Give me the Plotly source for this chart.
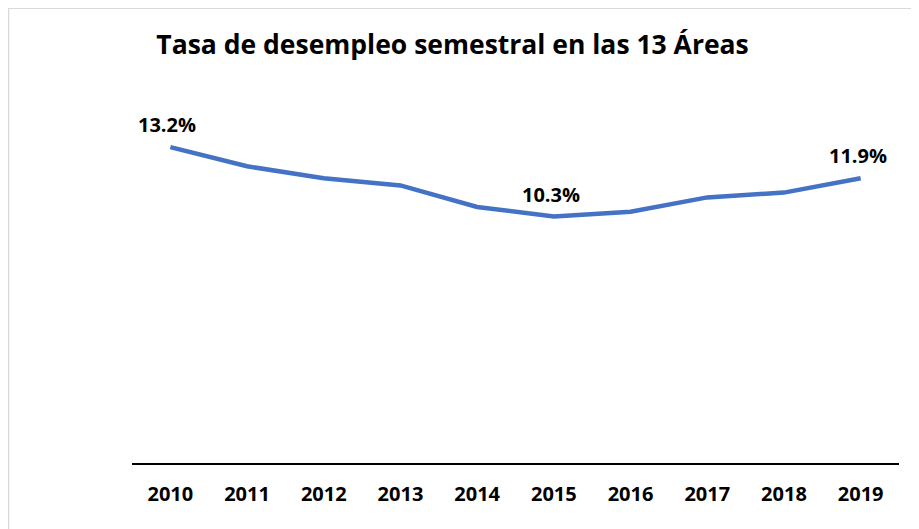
import plotly.graph_objects as go

# Tasa de desempleo semestral, 13 áreas
years = ["2010", "2011", "2012", "2013", "2014", "2015", "2016", "2017", "2018", "2019"]
rate = [13.2, 12.4, 11.9, 11.6, 10.7, 10.3, 10.5, 11.1, 11.3, 11.9]
labeled_years = ["2010", "2015", "2019"]

fig = go.Figure()
fig.add_trace(go.Scatter(
    x=years,
    y=rate,
    mode="lines",
    line=dict(color="#4472C4", width=4.5),
    hoverinfo="skip",
))

# value labels for a few years, placed above the line
# (category axis: annotations take the category index, not the year string)
for i, (y, v) in enumerate(zip(years, rate)):
    if y in labeled_years:
        fig.add_annotation(
            x=i, y=v, text=f"<b>{v:.1f}%</b>",
            showarrow=False, yanchor="bottom", yshift=7, xshift=-3,
            font=dict(family="Open Sans", size=20, color="#000000"),
        )

# page body has an 8px margin, so the figure is a bit smaller than the window
fig.update_layout(
    width=911,
    height=521,
    paper_bgcolor="white",
    plot_bgcolor="white",
    showlegend=False,
    margin=dict(l=124, r=20, t=120, b=66, autoexpand=False),
    title=dict(
        text="<b>Tasa de desempleo semestral en las 13 Áreas</b>",
        x=0.488,
        xanchor="center",
        y=0.929,
        yanchor="middle",
        font=dict(family="Open Sans", size=26.5, color="#000000"),
    ),
    xaxis=dict(
        type="category",
        range=[-0.5, len(years) - 0.5],
        automargin=False,
        showline=True,
        linecolor="#000000",
        linewidth=1.5,
        showgrid=False,
        ticks="",
        ticklabelstandoff=12,
        tickfont=dict(family="Open Sans", size=20, color="#000000", weight="bold"),
    ),
    yaxis=dict(visible=False, range=[0, 14]),
)

# light grey frame around the chart
fig.add_shape(
    type="rect", xref="paper", yref="paper",
    x0=-0.1610, x1=1.0209, y0=-0.25, y1=1.3575,
    line=dict(color="#d9d9d9", width=1.5),
    fillcolor="rgba(0,0,0,0)",
)

fig.write_html("out.html")
